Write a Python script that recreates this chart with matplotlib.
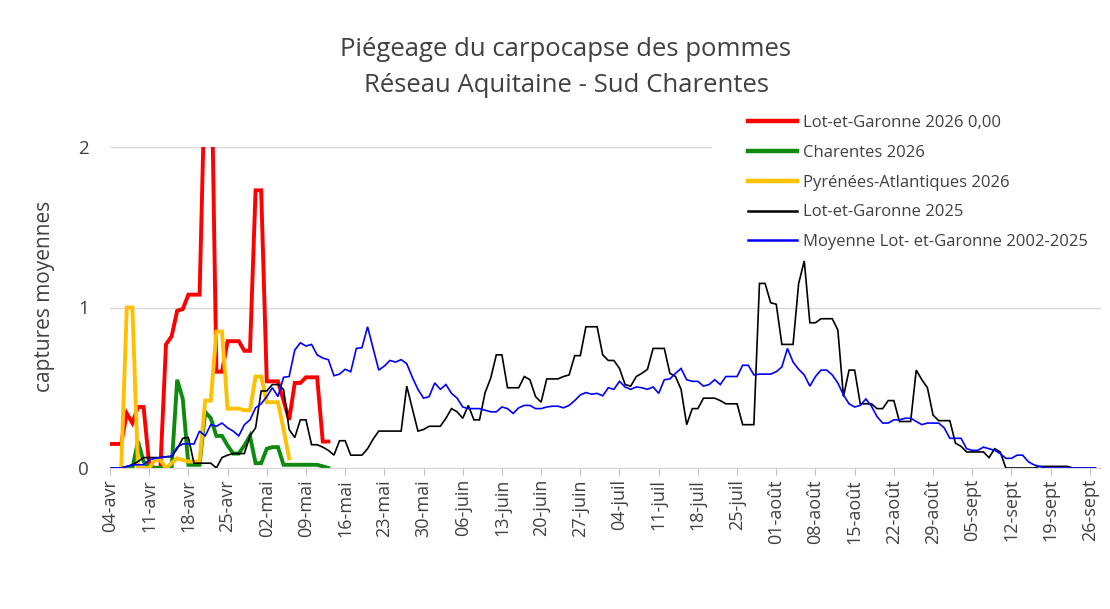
import numpy as np
import matplotlib
matplotlib.use("Agg")
import matplotlib.pyplot as plt
from matplotlib.patches import Rectangle
from matplotlib.lines import Line2D

plt.rcParams['font.family'] = ['Open Sans', 'DejaVu Sans']

# ---- data (daily values from 04-avr) ----
tick_labels = ["04-avr", "11-avr", "18-avr", "25-avr", "02-mai", "09-mai", "16-mai",
               "23-mai", "30-mai", "06-juin", "13-juin", "20-juin", "27-juin", "04-juil",
               "11-juil", "18-juil", "25-juil", "01-août", "08-août", "15-août", "22-août",
               "29-août", "05-sept", "12-sept", "19-sept", "26-sept"]

lot_2026 = [0.15, 0.15, 0.15, 0.34, 0.28, 0.38, 0.38, 0.02, 0.0, 0.0,
            0.77, 0.82, 0.98, 0.99, 1.08, 1.08, 1.08, 2.5, 2.8, 0.6,
            0.6, 0.79, 0.79, 0.79, 0.73, 0.73, 1.73, 1.73, 0.54, 0.54,
            0.54, 0.42, 0.30, 0.53, 0.53, 0.565, 0.565, 0.565, 0.165, 0.165]

charentes_2026 = [np.nan, np.nan, np.nan, 0.0, 0.0, 0.165, 0.04, 0.0, 0.0, 0.0,
                  0.0, 0.0, 0.55, 0.43, 0.02, 0.02, 0.02, 0.35, 0.31, 0.2,
                  0.2, 0.14, 0.09, 0.09, 0.14, 0.2, 0.03, 0.03, 0.12, 0.13,
                  0.13, 0.02, 0.02, 0.02, 0.02, 0.02, 0.02, 0.02, 0.01, 0.0]

pyr_2026 = [np.nan, np.nan, 0.0, 1.0, 1.0, 0.0, 0.0, 0.0, 0.05, 0.05,
            0.0, 0.03, 0.06, 0.05, 0.04, 0.04, 0.04, 0.42, 0.42, 0.85,
            0.85, 0.37, 0.37, 0.37, 0.36, 0.36, 0.57, 0.57, 0.41, 0.41,
            0.41, 0.24, 0.06]

lot_2025 = [0, 0, 0, 0.01, 0.02, 0.04, 0.065, 0.065, 0.065, 0.065,
            0.07, 0.07, 0.12, 0.185, 0.19, 0.03, 0.03, 0.03, 0.03, 0.0,
            0.065, 0.08, 0.09, 0.09, 0.09, 0.2, 0.25, 0.48, 0.48, 0.52,
            0.52, 0.49, 0.24, 0.19, 0.30, 0.30, 0.145, 0.145, 0.13, 0.11,
            0.08, 0.17, 0.17, 0.08, 0.08, 0.08, 0.12, 0.18, 0.23, 0.23,
            0.23, 0.23, 0.23, 0.51, 0.37, 0.23, 0.24, 0.26, 0.26, 0.26,
            0.31, 0.37, 0.35, 0.31, 0.39, 0.30, 0.30, 0.47, 0.56, 0.705,
            0.705, 0.50, 0.50, 0.50, 0.57, 0.55, 0.445, 0.41, 0.555, 0.555,
            0.555, 0.57, 0.58, 0.70, 0.70, 0.88, 0.88, 0.88, 0.705, 0.67,
            0.67, 0.62, 0.52, 0.51, 0.57, 0.59, 0.615, 0.745, 0.745, 0.745,
            0.59, 0.57, 0.49, 0.27, 0.37, 0.37, 0.435, 0.435, 0.435, 0.42,
            0.40, 0.40, 0.40, 0.27, 0.27, 0.27, 1.15, 1.15, 1.03, 1.02,
            0.77, 0.77, 0.77, 1.15, 1.29, 0.905, 0.905, 0.93, 0.93, 0.93,
            0.86, 0.445, 0.61, 0.61, 0.40, 0.40, 0.40, 0.37, 0.37, 0.42,
            0.42, 0.29, 0.29, 0.29, 0.61, 0.55, 0.50, 0.33, 0.295, 0.295,
            0.295, 0.155, 0.135, 0.10, 0.10, 0.10, 0.10, 0.065, 0.12, 0.10,
            0, 0, 0, 0, 0, 0, 0.01, 0.01, 0.01, 0.01,
            0.01, 0.01, 0, 0, 0, 0, 0]

moy_2002_2025 = [0, 0, 0, 0.01, 0.02, 0.02, 0.02, 0.05, 0.06, 0.065,
                 0.07, 0.075, 0.13, 0.15, 0.15, 0.15, 0.23, 0.2, 0.27, 0.26,
                 0.28, 0.25, 0.23, 0.2, 0.27, 0.30, 0.375, 0.40, 0.445, 0.50,
                 0.445, 0.565, 0.57, 0.735, 0.78, 0.76, 0.77, 0.705, 0.685, 0.675,
                 0.575, 0.585, 0.615, 0.6, 0.745, 0.75, 0.88, 0.745, 0.61, 0.635,
                 0.67, 0.66, 0.675, 0.65, 0.565, 0.49, 0.435, 0.445, 0.53, 0.49,
                 0.52, 0.465, 0.435, 0.38, 0.37, 0.37, 0.37, 0.36, 0.35, 0.35,
                 0.38, 0.37, 0.34, 0.375, 0.39, 0.39, 0.37, 0.37, 0.38, 0.385,
                 0.385, 0.375, 0.39, 0.42, 0.455, 0.47, 0.46, 0.465, 0.45, 0.50,
                 0.49, 0.54, 0.505, 0.49, 0.505, 0.50, 0.49, 0.505, 0.465, 0.55,
                 0.555, 0.59, 0.62, 0.55, 0.54, 0.54, 0.51, 0.52, 0.55, 0.52,
                 0.57, 0.57, 0.57, 0.64, 0.64, 0.58, 0.585, 0.585, 0.585, 0.6,
                 0.63, 0.745, 0.66, 0.615, 0.58, 0.51, 0.57, 0.61, 0.61, 0.58,
                 0.53, 0.455, 0.40, 0.38, 0.39, 0.43, 0.385, 0.32, 0.28, 0.28,
                 0.30, 0.30, 0.31, 0.31, 0.29, 0.27, 0.28, 0.28, 0.28, 0.25,
                 0.185, 0.185, 0.185, 0.12, 0.11, 0.11, 0.13, 0.12, 0.11, 0.09,
                 0.06, 0.06, 0.08, 0.08, 0.04, 0.02, 0.01, 0, 0, 0,
                 0, 0, 0, 0, 0, 0, 0]

series = [
    ("Lot-et-Garonne 2026 0,00", lot_2026, "#FF0000", 2.8),
    ("Charentes 2026", charentes_2026, "#0E8A0E", 2.8),
    ("Pyrénées-Atlantiques 2026", pyr_2026, "#FFC000", 2.8),
    ("Lot-et-Garonne 2025", lot_2025, "#000000", 1.2),
    ("Moyenne Lot- et-Garonne 2002-2025", moy_2002_2025, "#0000FF", 1.2),
]

W, H = 1110, 609
fig = plt.figure(figsize=(W / 100, H / 100), dpi=100)
ax = fig.add_axes([110 / W, 1 - 468 / H, 991 / W, (468 - 147) / H])

text_col = "#404040"
for label, vals, col, lw in series:
    x = np.arange(len(vals))
    ax.plot(x, vals, color=col, lw=lw, solid_joinstyle="miter", label=label)

ax.set_xlim(0, 177)
ax.set_ylim(0, 2)
ax.set_yticks([0, 1, 2])
ax.set_xticks(np.arange(len(tick_labels)) * 7)
ax.set_xticklabels(tick_labels, rotation=90)
ax.grid(axis="y", color="#D9D9D9", lw=1.0)
ax.set_axisbelow(True)
for s in ["top", "right", "left"]:
    ax.spines[s].set_visible(False)
ax.spines["bottom"].set_color("#D9D9D9")
ax.tick_params(axis="y", length=0, pad=15, labelsize=13.5, labelcolor=text_col)
ax.tick_params(axis="x", length=5, color="#BFBFBF", pad=3, labelsize=13, labelcolor=text_col)
ax.set_ylabel("captures moyennes", fontsize=15, color=text_col)
ax.yaxis.set_label_coords(-0.0555, (468 - 296) / (468 - 147))

fig.text(566 / W, 1 - 49 / H, "Piégeage du carpocapse des pommes", ha="center", va="center",
         fontsize=18.5, color=text_col)
fig.text(566 / W, 1 - 86 / H, "Réseau Aquitaine - Sud Charentes", ha="center", va="center",
         fontsize=18.5, color=text_col)

# white legend area (covers the top gridline behind the legend)
fig.add_artist(Rectangle((712 / W, 1 - 257 / H), (W - 712) / W, (257 - 100) / H,
                         transform=fig.transFigure, facecolor="white", edgecolor="none", zorder=1))
leg_handles = [Line2D([0], [0], color=c, lw=(3.2 if lw > 2 else 1.8)) for _, _, c, lw in series]
leg = fig.legend(leg_handles, [s[0] for s in series], loc="upper left",
                 bbox_to_anchor=(743 / W, 1 - 110 / H), frameon=False, fontsize=12,
                 handlelength=2.95, handletextpad=0.33, labelspacing=0.83, borderaxespad=0,
                 borderpad=0.3)
for t in leg.get_texts():
    t.set_color(text_col)
leg.set_zorder(5)

fig.savefig("out.png", dpi=100)
